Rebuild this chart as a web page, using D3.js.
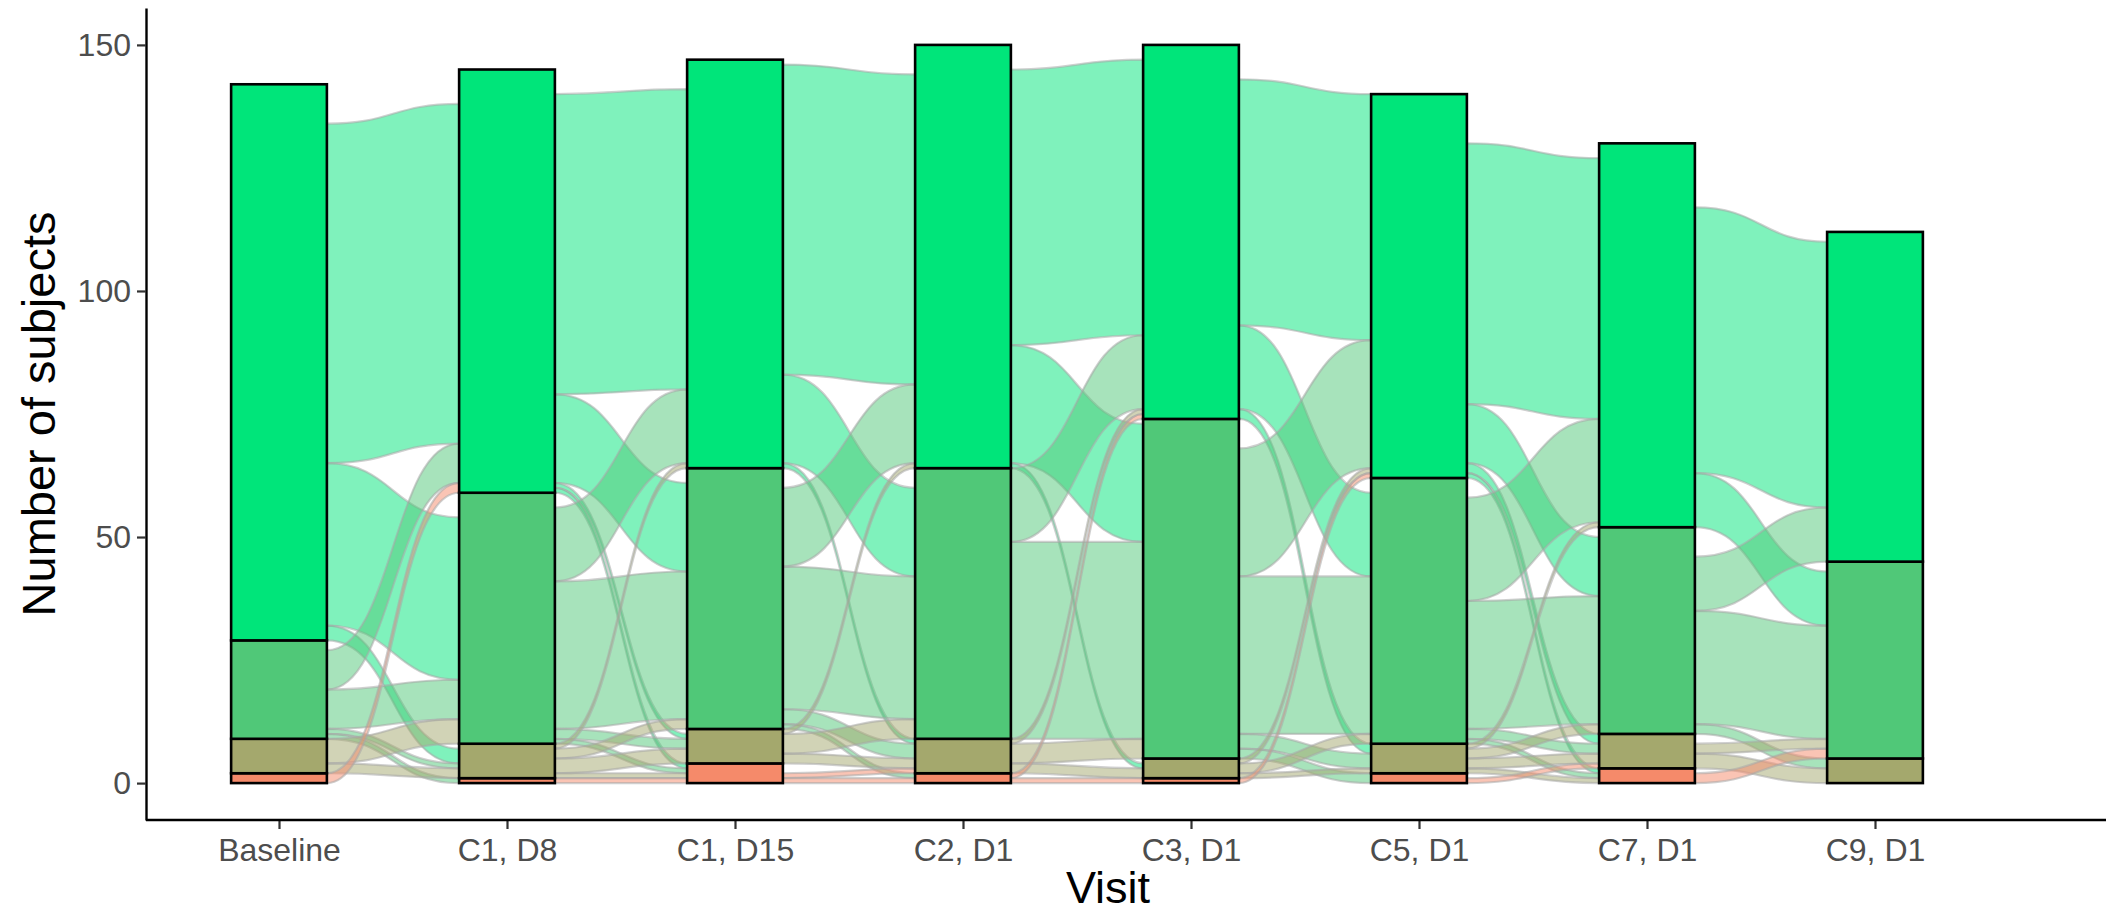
<!DOCTYPE html>
<html>
<head>
<meta charset="utf-8">
<script src="https://cdn.jsdelivr.net/npm/d3@7"></script>
<style>
  html, body { margin: 0; padding: 0; background: #ffffff; }
  svg { display: block; }
  text { font-family: "Liberation Sans", Arial, Helvetica, sans-serif; }
</style>
</head>
<body>
<svg id="chart" width="2106" height="917"></svg>
<script>
// Visits along the x axis
const visits = ["Baseline", "C1, D8", "C1, D15", "C2, D1", "C3, D1", "C5, D1", "C7, D1", "C9, D1"];

// Response grades, listed from the top of each stack to the bottom
const grades = ["Grade 0", "Grade 1", "Grade 2", "Grade 3"];
const gradeColors = ["#00E57A", "#50C878", "#A4A86D", "#F58A6A"];

// Subjects in each grade at each visit
const grade0Counts = [113, 86, 83, 86, 76, 78, 78, 67];
const grade1Counts = [20, 51, 53, 55, 69, 54, 42, 40];
const grade2Counts = [7, 7, 7, 7, 4, 6, 7, 5];
const grade3Counts = [2, 1, 4, 2, 1, 2, 3, 0];

// Transitions between consecutive visits: rows = grade at the earlier visit,
// columns = grade at the later visit (Grade 0 .. Grade 3).
// Subjects not seen at the other visit are left out.
const flowsBaselineToC1D8 = [[69, 33, 3, 0], [8, 8, 1, 1], [0, 5, 2, 0], [2, 0, 0, 0]];
const flowsC1D8ToC1D15    = [[61, 18, 1, 1], [15, 30, 2, 1], [1, 2, 3, 1], [0, 0, 0, 1]];
const flowsC1D15ToC2D1    = [[63, 18, 1, 0], [16, 29, 3, 1], [1, 4, 2, 0], [0, 0, 1, 1]];
const flowsC2D1ToC3D1     = [[56, 24, 1, 0], [15, 40, 0, 0], [1, 4, 2, 0], [1, 0, 0, 1]];
const flowsC3D1ToC5D1     = [[50, 17, 2, 0], [26, 32, 3, 2], [1, 2, 1, 0], [1, 0, 0, 0]];
const flowsC5D1ToC7D1     = [[53, 12, 2, 1], [21, 26, 2, 1], [1, 2, 2, 1], [0, 0, 1, 0]];
const flowsC7D1ToC9D1     = [[54, 11, 0, 0], [11, 23, 2, 0], [0, 2, 3, 0], [0, 2, 0, 0]];

const yTicks = [0, 50, 100, 150];

const transitions = [flowsBaselineToC1D8, flowsC1D8ToC1D15, flowsC1D15ToC2D1,
  flowsC2D1ToC3D1, flowsC3D1ToC5D1, flowsC5D1ToC7D1, flowsC7D1ToC9D1];
const counts = visits.map((v, i) => [grade0Counts[i], grade1Counts[i], grade2Counts[i], grade3Counts[i]]);

const panel = { left: 146, right: 2106, top: 8, bottom: 820 };

const svg = d3.select("#chart");

const x = d3.scalePoint().domain(visits).range([279, 1875]);
const y = d3.scaleLinear().domain([-7.5, 157.5]).range([panel.bottom, panel.top]);
const barW = x.step() * 0.42;

// Stack each visit: Grade 3 at the bottom, Grade 0 on top
const strata = [];
visits.forEach((v, i) => {
  let base = 0;
  for (let g = grades.length - 1; g >= 0; g--) {
    const n = counts[i][g];
    strata.push({ visit: v, vi: i, grade: g, lo: base, hi: base + n, n });
    base += n;
  }
});
const stratumOf = (vi, g) => strata.find(s => s.vi === vi && s.grade === g);

// Flow ribbons between consecutive visits
const flows = [];
transitions.forEach((M, t) => {
  const outCursor = grades.map((_, a) => {
    const s = stratumOf(t, a);
    return s.hi - (s.n - d3.sum(M[a]));
  });
  const inCursor = grades.map((_, b) => {
    const s = stratumOf(t + 1, b);
    return s.hi - (s.n - d3.sum(M, row => row[b]));
  });
  for (let a = 0; a < grades.length; a++) {
    for (let b = 0; b < grades.length; b++) {
      const n = M[a][b];
      if (!n) continue;
      const l0 = outCursor[a], l1 = l0 - n;
      const r0 = inCursor[b], r1 = r0 - n;
      outCursor[a] = l1;
      inCursor[b] = r1;
      flows.push({ t, from: a, to: b, n, l0, l1, r0, r1 });
    }
  }
});

function ribbon(f) {
  const x0 = x(visits[f.t]) + barW / 2;
  const x1 = x(visits[f.t + 1]) - barW / 2;
  const xm = (x0 + x1) / 2;
  const p = d3.path();
  p.moveTo(x0, y(f.l0));
  p.bezierCurveTo(xm, y(f.l0), xm, y(f.r0), x1, y(f.r0));
  p.lineTo(x1, y(f.r1));
  p.bezierCurveTo(xm, y(f.r1), xm, y(f.l1), x0, y(f.l1));
  p.closePath();
  return p.toString();
}

svg.append("g").attr("class", "flows")
  .selectAll("path")
  .data(flows)
  .join("path")
  .attr("d", ribbon)
  .attr("fill", d => gradeColors[d.from])
  .attr("fill-opacity", 0.5)
  .attr("stroke", "#a8a8a8")
  .attr("stroke-opacity", 0.55)
  .attr("stroke-width", 2.2);

svg.append("g").attr("class", "strata")
  .selectAll("rect")
  .data(strata.filter(s => s.n > 0))
  .join("rect")
  .attr("x", d => x(d.visit) - barW / 2)
  .attr("width", barW)
  .attr("y", d => y(d.hi))
  .attr("height", d => y(d.lo) - y(d.hi))
  .attr("fill", d => gradeColors[d.grade])
  .attr("stroke", "#000")
  .attr("stroke-width", 2.6);

// Axes
const yAxis = svg.append("g")
  .attr("transform", `translate(${panel.left},0)`)
  .call(d3.axisLeft(y).tickValues(yTicks).tickSize(9).tickSizeOuter(0).tickPadding(6));
const xAxis = svg.append("g")
  .attr("transform", `translate(0,${panel.bottom})`)
  .call(d3.axisBottom(x).tickSize(9).tickSizeOuter(0).tickPadding(9));

xAxis.select(".domain").remove();
xAxis.append("line")
  .attr("x1", panel.left).attr("x2", panel.right)
  .attr("y1", 0).attr("y2", 0)
  .attr("stroke", "#000").attr("stroke-width", 2.4);

[yAxis, xAxis].forEach(g => {
  g.select(".domain").attr("stroke", "#000").attr("stroke-width", 2.4);
  g.selectAll(".tick line").attr("stroke", "#333").attr("stroke-width", 2.2);
  g.selectAll(".tick text")
    .attr("fill", "#4D4D4D")
    .style("font-size", "32px")
    .style("font-family", "'Liberation Sans', Arial, sans-serif");
});

svg.append("text")
  .attr("x", 1108)
  .attr("y", 903)
  .attr("text-anchor", "middle")
  .style("font-size", "45px")
  .attr("fill", "#000")
  .text("Visit");

svg.append("text")
  .attr("transform", `translate(55,${(panel.top + panel.bottom) / 2}) rotate(-90)`)
  .attr("text-anchor", "middle")
  .style("font-size", "47px")
  .attr("fill", "#000")
  .text("Number of subjects");
</script>
</body>
</html>
